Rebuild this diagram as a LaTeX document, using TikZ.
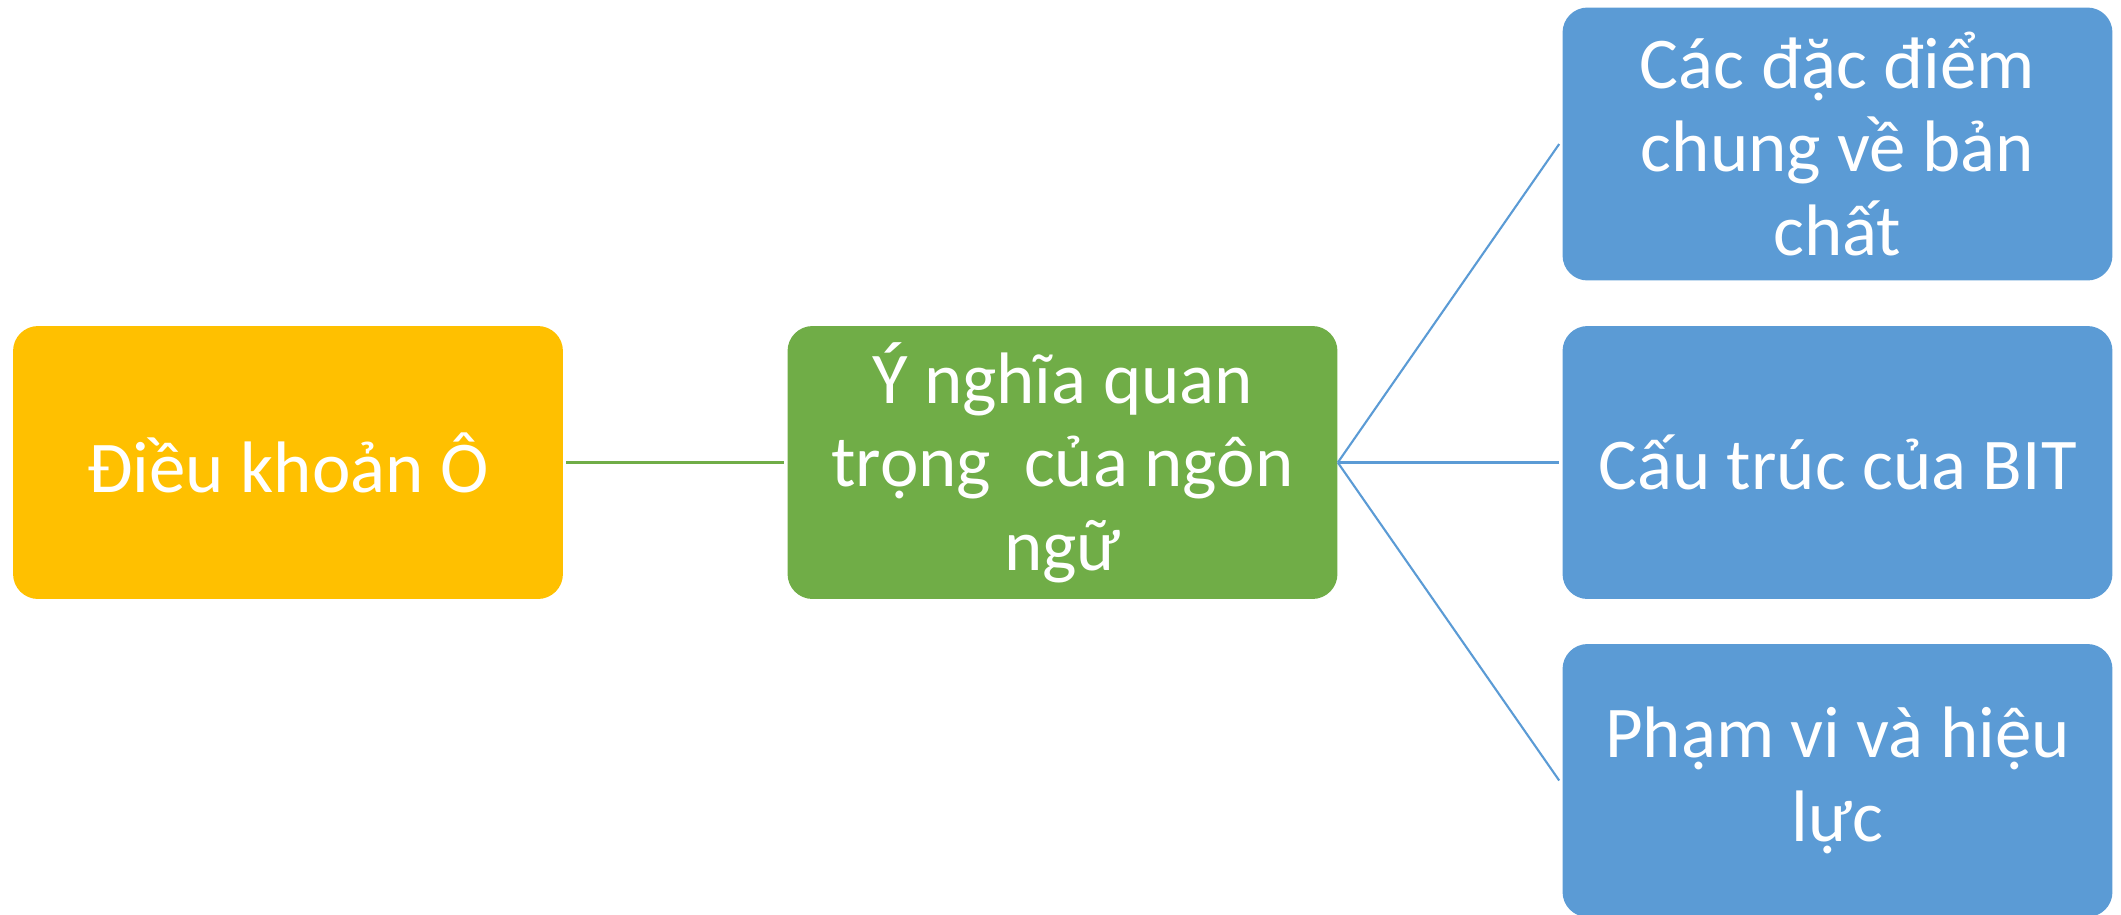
\documentclass[tikz,border=0pt]{standalone}
\usepackage{fontspec}
\setmainfont{Carlito}
\usetikzlibrary{positioning}
\definecolor{boxyellow}{HTML}{FFC000}
\definecolor{boxgreen}{HTML}{70AD47}
\definecolor{boxblue}{HTML}{5B9BD5}
\begin{document}
\begin{tikzpicture}[
		x=0.02cm, y=-0.02cm,
		box/.style={rectangle, rounded corners=0.5cm, minimum width=11cm, minimum height=5.46cm,
			align=center, text=white, font=\fontsize{41.5}{47.5}\selectfont, inner sep=0pt},
		link/.style={line width=1.2pt}
	]
	\useasboundingbox (0,0) rectangle (2121,914);
	\node[box, fill=boxyellow] (dieu) at (288,462.5) {Điều khoản Ô};
	\node[box, fill=boxgreen] (ynghia) at (1062.5,462.5) {Ý nghĩa quan\\trọng\ \ của ngôn\\ngữ};
	\node[box, fill=boxblue] (dacdiem) at (1837.5,144) {Các đặc điểm\\chung về bản\\chất};
	\node[box, fill=boxblue] (cautruc) at (1837.5,462.5) {Cấu trúc của BIT};
	\node[box, fill=boxblue] (phamvi) at (1837.5,780.5) {Phạm vi và hiệu\\lực};
	\draw[link, boxgreen] (dieu.east) ++(3,0) -- ([xshift=-0.06cm]ynghia.west);
	\draw[link, boxblue] (ynghia.east) -- ([xshift=-0.06cm]dacdiem.west);
	\draw[link, boxblue] (ynghia.east) -- ([xshift=-0.06cm]cautruc.west);
	\draw[link, boxblue] (ynghia.east) -- ([xshift=-0.06cm]phamvi.west);
\end{tikzpicture}
\end{document}
